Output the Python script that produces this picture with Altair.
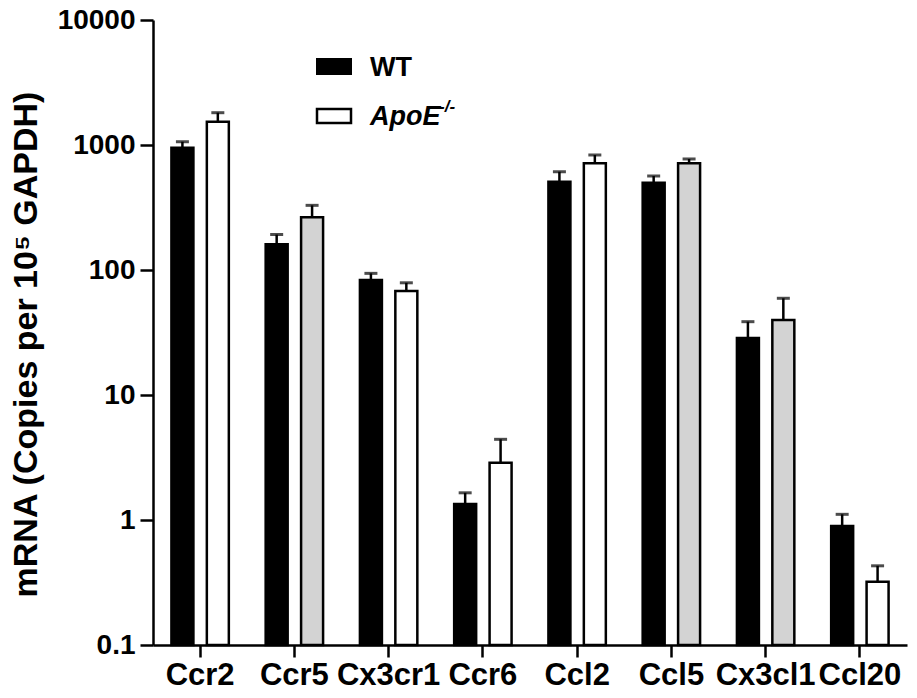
import altair as alt
import pandas as pd

genes = ["Ccr2", "Ccr5", "Cx3cr1", "Ccr6", "Ccl2", "Ccl5", "Cx3cl1", "Ccl20"]
groups = ["WT", "ApoE"]
wt_mean = [952, 161, 83, 1.34, 508, 499, 28.6, 0.895]
wt_sem = [110, 31, 11, 0.31, 103, 66, 10.0, 0.215]
apoe_mean = [1535, 264, 68, 2.87, 714, 714, 39.8, 0.32]
apoe_sem = [278, 65, 11, 1.55, 118, 59, 19.6, 0.11]
shaded_genes = ["Ccr5", "Ccl5", "Cx3cl1"]
y_ticks = [0.1, 1, 10, 100, 1000, 10000]

rows = []
for i, g in enumerate(genes):
    rows.append({"gene": g, "group": "WT", "mean": wt_mean[i],
                 "upper": wt_mean[i] + wt_sem[i], "tone": "WT"})
    rows.append({"gene": g, "group": "ApoE", "mean": apoe_mean[i],
                 "upper": apoe_mean[i] + apoe_sem[i],
                 "tone": "ApoE shaded" if g in shaded_genes else "ApoE"})
df = pd.DataFrame(rows)

FONT = "Liberation Sans"
yscale = alt.Scale(type="log", domain=[0.1, 10000], nice=False)
yaxis = alt.Axis(title="mRNA (Copies per 10⁵ GAPDH)", values=y_ticks,
                 labelExpr="datum.value >= 1 ? format(datum.value, 'd') : format(datum.value, '.1f')",
                 labelFontSize=28, labelFontWeight="bold", labelFont=FONT,
                 labelColor="black", tickSize=13, tickWidth=2.5,
                 tickColor="black", domainWidth=2.5, domainColor="black",
                 grid=False, labelPadding=5, titleFont=FONT,
                 titleFontSize=34, titleFontWeight="bold",
                 titleColor="black", titlePadding=14, titleY=324)

base = alt.Chart(df).encode(
    x=alt.X("gene:N", sort=genes,
            scale=alt.Scale(paddingInner=0, paddingOuter=0),
            axis=alt.Axis(title=None, labelAngle=0, labelFontSize=31,
                          labelFontWeight="bold", labelFont=FONT,
                          labelColor="black", tickSize=12, tickWidth=2.5,
                          tickColor="black", domainWidth=2.5,
                          domainColor="black", labelPadding=3)),
    xOffset=alt.XOffset("group:N", sort=groups,
                        scale=alt.Scale(paddingInner=0.379, paddingOuter=0.52)),
)

bars = base.mark_bar(stroke="black", strokeWidth=2.5).encode(
    y=alt.Y("mean:Q", scale=yscale, axis=yaxis),
    y2=alt.datum(0.1),
    fill=alt.Fill("tone:N",
                  scale=alt.Scale(domain=["WT", "ApoE", "ApoE shaded"],
                                  range=["black", "white", "#d3d3d3"]),
                  legend=None),
)

err = base.mark_rule(color="black", strokeWidth=2.5).encode(
    y=alt.Y("mean:Q", scale=yscale, axis=yaxis),
    y2="upper:Q",
)

caps = base.mark_tick(color="black", thickness=3, size=13).encode(
    y=alt.Y("upper:Q", scale=yscale, axis=yaxis),
)

one = pd.DataFrame({"k": [0]})
leg_wt_box = alt.Chart(one).mark_rect(fill="black", stroke="black", strokeWidth=2).encode(
    x=alt.value(164), x2=alt.value(198), y=alt.value(39), y2=alt.value(54))
leg_apoe_box = alt.Chart(one).mark_rect(fill="white", stroke="black", strokeWidth=2.5).encode(
    x=alt.value(164), x2=alt.value(198), y=alt.value(89), y2=alt.value(103))
leg_wt_txt = alt.Chart(one).mark_text(
    text="WT", align="left", baseline="middle", fontSize=27, fontWeight="bold",
    font=FONT, color="black").encode(x=alt.value(217), y=alt.value(48))
leg_apoe_txt = alt.Chart(one).mark_text(
    text="ApoE", align="left", baseline="middle", fontSize=27, fontWeight="bold",
    fontStyle="italic", font=FONT, color="black").encode(x=alt.value(217), y=alt.value(97))
leg_apoe_sup = alt.Chart(one).mark_text(
    text="-/-", align="left", baseline="middle", fontSize=17, fontWeight="bold",
    fontStyle="italic", font=FONT, color="black").encode(x=alt.value(286), y=alt.value(87))

chart = alt.layer(
    bars, err, caps, leg_wt_box, leg_apoe_box, leg_wt_txt, leg_apoe_txt, leg_apoe_sup
).properties(
    width=754, height=625,
    background="white",
    autosize=alt.AutoSizeParams(type="none"),
    padding={"left": 153, "top": 20, "right": 10, "bottom": 53},
).configure_view(stroke=None)

chart.save("out.html", embed_options={"renderer": "svg", "actions": False})
